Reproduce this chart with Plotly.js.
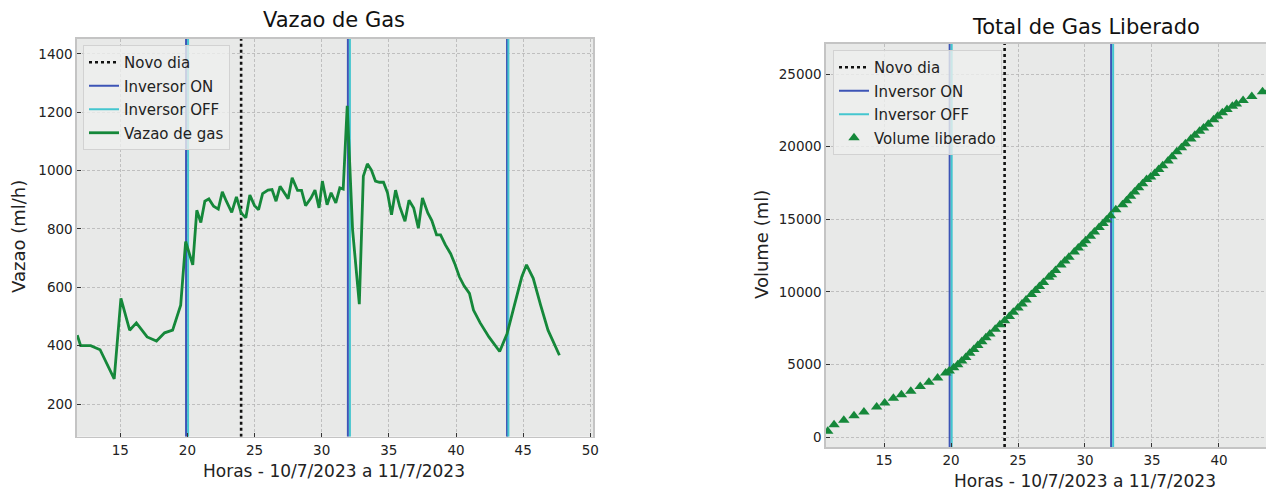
<!DOCTYPE html>
<html>
<head>
<meta charset="utf-8">
<script src="https://cdn.plot.ly/plotly-3.0.1.min.js"></script>
<style>html,body{margin:0;padding:0;background:#fff;overflow:hidden}#chart{width:1266px;height:493px}</style>
</head>
<body>
<div id="chart"></div>
<script>
// ---- Data ----
const vazaoHoras = [11.8, 12.05, 12.8, 13.5, 14.55, 15.05, 15.7, 16.2, 17.0, 17.7, 18.3, 18.9, 19.5, 19.87, 20.4, 20.7, 21.0, 21.3, 21.6, 21.95, 22.3, 22.6, 22.9, 23.3, 23.65, 24.0, 24.35, 24.65, 25.0, 25.3, 25.6, 26.0, 26.3, 26.6, 26.9, 27.3, 27.5, 27.8, 28.2, 28.5, 28.8, 29.2, 29.5, 29.8, 30.05, 30.4, 30.7, 31.05, 31.35, 31.6, 31.9, 32.3, 32.8, 33.1, 33.4, 33.7, 34.0, 34.3, 34.6, 34.9, 35.2, 35.5, 35.8, 36.2, 36.5, 36.85, 37.2, 37.5, 37.9, 38.2, 38.55, 38.85, 39.2, 39.6, 39.9, 40.25, 40.6, 41.0, 41.3, 41.8, 42.45, 43.25, 43.8, 44.35, 44.9, 45.25, 45.75, 46.3, 46.85, 47.7];
const vazaoValores = [436, 400, 400, 386, 286, 562, 453, 478, 430, 416, 444, 453, 539, 757, 677, 864, 822, 895, 903, 878, 868, 927, 895, 857, 910, 855, 838, 916, 880, 866, 921, 933, 935, 895, 946, 918, 904, 975, 932, 932, 880, 906, 933, 872, 964, 883, 924, 889, 941, 937, 1222, 797, 542, 981, 1023, 1002, 964, 960, 960, 924, 849, 933, 878, 826, 898, 872, 803, 906, 855, 829, 780, 780, 746, 715, 682, 636, 605, 579, 522, 478, 430, 380, 441, 539, 636, 677, 631, 539, 453, 367];

const volumeHoras = [10.8, 11.27, 12.0, 12.76, 13.5, 14.45, 15.05, 15.7, 16.3, 17.0, 17.7, 18.35, 19.0, 19.6, 19.87, 20.2, 20.5, 20.8, 21.1, 21.4, 21.7, 22.0, 22.3, 22.6, 22.9, 23.3, 23.65, 24.0, 24.35, 24.65, 25.0, 25.3, 25.6, 26.0, 26.3, 26.6, 26.9, 27.3, 27.5, 27.8, 28.2, 28.5, 28.8, 29.2, 29.5, 29.8, 30.05, 30.4, 30.7, 31.05, 31.35, 31.6, 31.9, 32.3, 32.8, 33.1, 33.4, 33.7, 34.0, 34.3, 34.6, 34.9, 35.2, 35.5, 35.8, 36.2, 36.5, 36.85, 37.2, 37.5, 37.9, 38.2, 38.55, 38.85, 39.2, 39.6, 39.9, 40.25, 40.6, 41.0, 41.3, 41.8, 42.45, 43.25, 43.8];
const volumeValores = [420, 870, 1170, 1490, 1740, 2090, 2360, 2680, 2930, 3170, 3500, 3780, 4080, 4420, 4560, 4780, 5000, 5250, 5500, 5780, 6050, 6310, 6580, 6850, 7110, 7430, 7750, 8020, 8320, 8600, 8900, 9180, 9450, 9820, 10100, 10370, 10650, 11010, 11190, 11480, 11850, 12130, 12390, 12750, 13030, 13290, 13530, 13840, 14120, 14430, 14710, 14950, 15250, 15650, 16000, 16280, 16580, 16880, 17170, 17450, 17740, 17910, 18150, 18420, 18680, 19010, 19300, 19650, 19930, 20200, 20520, 20780, 21060, 21290, 21550, 21850, 22100, 22330, 22550, 22780, 22930, 23180, 23450, 23780, 23950];

const novoDia = [24];
const inversorOn = [19.9, 31.95, 43.8];
const inversorOff = [20.05, 32.1, 43.9];

const ticksVazaoX = [15, 20, 25, 30, 35, 40, 45, 50];
const ticksVazaoY = [200, 400, 600, 800, 1000, 1200, 1400];
const ticksVolumeX = [15, 20, 25, 30, 35, 40, 45];
const ticksVolumeY = [0, 5000, 10000, 15000, 20000, 25000];

const textos = {
  titulo1: 'Vazao de Gas',
  titulo2: 'Total de Gas Liberado',
  eixoX: 'Horas - 10/7/2023 a 11/7/2023',
  eixoY1: 'Vazao (ml/h)',
  eixoY2: 'Volume (ml)'
};

// ---- Styling ----
const FONT = 'DejaVu Sans, Liberation Sans, sans-serif';
const C_ON = '#3d54b6';
const C_OFF = '#44c6cf';
const C_GREEN = '#15883a';
const RANGE_Y1 = [88, 1451];
const RANGE_Y2 = [-667, 27064];

function vline(xs, yr) {
  const x = [], y = [];
  xs.forEach(v => { x.push(v, v, null); y.push(yr[0], yr[1], null); });
  return {x, y};
}

function guides(xa, ya, yr, legend) {
  const d = vline(novoDia, yr), on = vline(inversorOn, yr), off = vline(inversorOff, yr);
  return [
    {type: 'scatter', mode: 'lines', name: 'Novo dia', x: d.x, y: d.y, xaxis: xa, yaxis: ya, legend,
     legendgroup: legend + 'a', line: {color: '#111', width: 2.6, dash: 'dot'}, hoverinfo: 'skip'},
    {type: 'scatter', mode: 'lines', name: 'Inversor ON', x: on.x, y: on.y, xaxis: xa, yaxis: ya, legend,
     legendgroup: legend + 'b', line: {color: C_ON, width: 2}, hoverinfo: 'skip'},
    {type: 'scatter', mode: 'lines', name: 'Inversor OFF', x: off.x, y: off.y, xaxis: xa, yaxis: ya, legend,
     legendgroup: legend + 'c', line: {color: C_OFF, width: 2}, hoverinfo: 'skip'}
  ];
}

const traces = [
  ...guides('x', 'y', RANGE_Y1, 'legend'),
  {type: 'scatter', mode: 'lines', name: 'Vazao de gas', x: vazaoHoras, y: vazaoValores,
   xaxis: 'x', yaxis: 'y', legend: 'legend', legendgroup: 'legendd', line: {color: C_GREEN, width: 2.8}},
  ...guides('x2', 'y2', RANGE_Y2, 'legend2'),
  {type: 'scatter', mode: 'markers', name: 'Volume liberado', x: volumeHoras, y: volumeValores,
   xaxis: 'x2', yaxis: 'y2', legend: 'legend2', legendgroup: 'legend2d',
   marker: {symbol: 'triangle-up', size: 10, color: C_GREEN}}
];

const W = 1266, H = 493;
const px = v => v / W;
const py = v => (H - v) / H;

const axisCommon = {
  showgrid: true, gridcolor: '#b4b4b4', gridwidth: 0.8, griddash: '3px,2px',
  zeroline: false, showline: true, linecolor: '#c4c4c4', linewidth: 1.6,
  ticks: 'inside', ticklen: 4, tickwidth: 1, tickcolor: '#333', tickformat: 'd',
  tickfont: {family: FONT, size: 13.5, color: '#222'}, autorange: false
};

const legendCommon = {
  bgcolor: 'rgba(238,239,238,0.8)', bordercolor: '#d2d2d2', borderwidth: 1,
  font: {family: FONT, size: 15, color: '#222'}, xanchor: 'left', yanchor: 'top',
  traceorder: 'grouped', tracegroupgap: 1, itemwidth: 30
};

const layout = {
  width: W, height: H,
  margin: {l: 0, r: 0, t: 0, b: 0},
  paper_bgcolor: '#ffffff',
  plot_bgcolor: '#e8e9e8',
  font: {family: FONT, color: '#222'},
  showlegend: true,
  xaxis: {...axisCommon, domain: [px(77), px(593)], range: [11.78, 50.2], tickvals: ticksVazaoX, mirror: true, anchor: 'y'},
  yaxis: {...axisCommon, domain: [py(436.7), py(39)], range: RANGE_Y1, tickvals: ticksVazaoY, mirror: true, anchor: 'x'},
  xaxis2: {...axisCommon, domain: [px(826), 1], range: [10.67, 43.51], tickvals: ticksVolumeX, mirror: true, anchor: 'y2'},
  yaxis2: {...axisCommon, domain: [py(447), py(44)], range: RANGE_Y2, tickvals: ticksVolumeY, mirror: false, anchor: 'x2'},
  legend: {...legendCommon, x: px(83), y: py(45)},
  legend2: {...legendCommon, x: px(833), y: py(50)},
  annotations: [
    {text: textos.titulo1, x: px(334), y: py(20), xref: 'paper', yref: 'paper', showarrow: false,
     xanchor: 'center', yanchor: 'middle', font: {family: FONT, size: 21, color: '#111'}},
    {text: textos.titulo2, x: px(1086), y: py(27), xref: 'paper', yref: 'paper', showarrow: false,
     xanchor: 'center', yanchor: 'middle', font: {family: FONT, size: 21, color: '#111'}},
    {text: textos.eixoX, x: px(334), y: py(471), xref: 'paper', yref: 'paper', showarrow: false,
     xanchor: 'center', yanchor: 'middle', font: {family: FONT, size: 17, color: '#222'}},
    {text: textos.eixoX, x: px(1085), y: py(481), xref: 'paper', yref: 'paper', showarrow: false,
     xanchor: 'center', yanchor: 'middle', font: {family: FONT, size: 17, color: '#222'}},
    {text: textos.eixoY1, x: px(18), y: py(237), xref: 'paper', yref: 'paper', showarrow: false, textangle: -90,
     xanchor: 'center', yanchor: 'middle', font: {family: FONT, size: 18, color: '#222'}},
    {text: textos.eixoY2, x: px(761), y: py(245), xref: 'paper', yref: 'paper', showarrow: false, textangle: -90,
     xanchor: 'center', yanchor: 'middle', font: {family: FONT, size: 18, color: '#222'}}
  ]
};

Plotly.newPlot('chart', traces, layout, {displayModeBar: false, staticPlot: true});
</script>
</body>
</html>
